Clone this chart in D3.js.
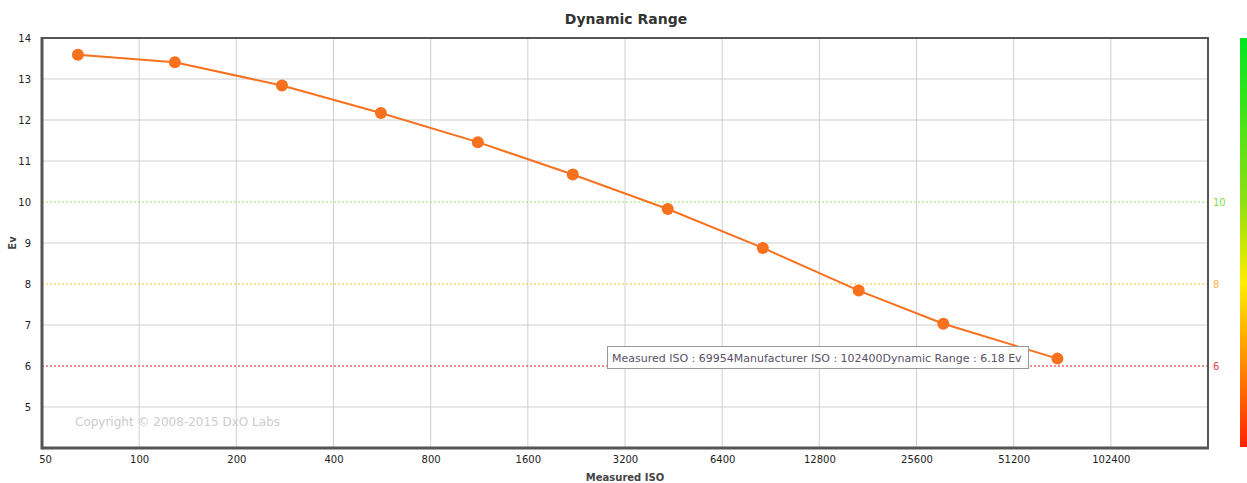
<!DOCTYPE html>
<html><head><meta charset="utf-8">
<script src="https://cdn.jsdelivr.net/npm/d3@7/dist/d3.min.js"></script>
<style>body{margin:0;background:#fff;} svg{display:block;font-family:"DejaVu Sans",Verdana,sans-serif;}</style>
</head><body>
<svg id="c" width="1247" height="483"></svg>
<script>
const measuredISO = [64.6, 129, 277, 561, 1120, 2205, 4341, 8552, 16950, 31000, 69954];
const dynamicRange = [13.59, 13.41, 12.84, 12.17, 11.46, 10.67, 9.83, 8.88, 7.84, 7.03, 6.18];
const xTicks = [50, 100, 200, 400, 800, 1600, 3200, 6400, 12800, 25600, 51200, 102400];
const yTicks = [5, 6, 7, 8, 9, 10, 11, 12, 13, 14];
const refLines = [{v:10, c:"#8ee86a", lc:"#7de04f"}, {v:8, c:"#f5c030", lc:"#f7b548"}, {v:6, c:"#e0161e", lc:"#e04848"}];

const svg = d3.select("#c");
const L = 42, R = 1208, T = 38, B = 448;
const x = d3.scaleLog().base(2).domain([50, 204800]).range([L, R]);
const y = d3.scaleLinear().domain([4, 14]).range([B, T]);

// gridlines
const g = svg.append("g");
g.selectAll(".vx").data(xTicks.slice(1)).join("line")
  .attr("x1", d=>x(d)).attr("x2", d=>x(d)).attr("y1", T).attr("y2", B)
  .attr("stroke", "#cfcfcf").attr("stroke-width", 1);
g.selectAll(".hy").data(yTicks.filter(v=>!refLines.some(r=>r.v===v))).join("line")
  .attr("x1", L).attr("x2", R).attr("y1", d=>y(d)).attr("y2", d=>y(d))
  .attr("stroke", "#cfcfcf").attr("stroke-width", 1);
// reference lines
g.selectAll(".ref").data(refLines).join("line")
  .attr("x1", L).attr("x2", R).attr("y1", d=>y(d.v)).attr("y2", d=>y(d.v))
  .attr("stroke", d=>d.c).attr("stroke-width", 1).attr("stroke-dasharray", "2,2");
svg.selectAll(".refl").data(refLines).join("text")
  .attr("x", R + 5).attr("y", d=>y(d.v) + 4).attr("fill", d=>d.lc)
  .attr("font-size", 10).text(d=>d.v);

// copyright
svg.append("text").attr("x", 75).attr("y", 426).attr("fill", "#cccccc")
  .attr("font-size", 12).text("Copyright © 2008-2015 DxO Labs");

// border
svg.append("rect").attr("x", L).attr("y", T).attr("width", R-L).attr("height", B-T)
  .attr("fill", "none").attr("stroke", "#555").attr("stroke-width", 2);
svg.append("line").attr("x1", L).attr("x2", L).attr("y1", T-1).attr("y2", B+1.5).attr("stroke", "#555").attr("stroke-width", 3);
svg.append("line").attr("x1", L).attr("x2", R+1).attr("y1", B).attr("y2", B).attr("stroke", "#555").attr("stroke-width", 3);

// axes labels
const xa = d3.axisBottom(x).tickValues(xTicks).tickFormat(d=>d).tickSize(0).tickPadding(8);
const xg = svg.append("g").attr("transform", `translate(0,${B})`).call(xa);
xg.select(".domain").remove();
xg.selectAll("text").attr("font-size", 10).attr("fill", "#222").attr("font-family", "DejaVu Sans, Verdana, sans-serif");
xg.selectAll(".tick").filter(d=>d===50).select("text").attr("dx", 3);
const ya = d3.axisLeft(y).tickValues(yTicks).tickSize(0).tickPadding(11);
const yg = svg.append("g").attr("transform", `translate(${L},0)`).call(ya);
yg.select(".domain").remove();
yg.selectAll("text").attr("font-size", 10).attr("fill", "#222").attr("font-family", "DejaVu Sans, Verdana, sans-serif");

// titles
svg.append("text").attr("x", 626).attr("y", 24).attr("text-anchor", "middle")
  .attr("font-size", 14).attr("font-weight", "bold").attr("fill", "#333").text("Dynamic Range");
svg.append("text").attr("x", 625).attr("y", 481).attr("text-anchor", "middle")
  .attr("font-size", 10).attr("font-weight", "bold").attr("fill", "#444").text("Measured ISO");
svg.append("text").attr("transform", "translate(16,243) rotate(-90)").attr("text-anchor", "middle")
  .attr("font-size", 10).attr("font-weight", "bold").attr("fill", "#444").text("Ev");

// gradient bar
const defs = svg.append("defs");
const grad = defs.append("linearGradient").attr("id", "gr").attr("x1", 0).attr("x2", 0).attr("y1", 0).attr("y2", 1);
[[0,"#00e620"],[0.4,"#8ee010"],[0.6,"#ffee00"],[0.8,"#ff8a00"],[1,"#ff2200"]].forEach(s=>
  grad.append("stop").attr("offset", s[0]).attr("stop-color", s[1]));
svg.append("rect").attr("x", 1240).attr("y", T).attr("width", 7).attr("height", B-T-1).attr("fill", "url(#gr)");

// line
const data = measuredISO.map((v,i)=>({iso:v, dr:dynamicRange[i]}));
svg.append("path").datum(data)
  .attr("d", d3.line().x(d=>x(d.iso)).y(d=>y(d.dr)))
  .attr("fill", "none").attr("stroke", "#f7711f").attr("stroke-width", 2);
svg.selectAll(".pt").data(data).join("circle")
  .attr("cx", d=>x(d.iso)).attr("cy", d=>y(d.dr)).attr("r", 6).attr("fill", "#f7711f");

// tooltip
const tt = svg.append("g");
tt.append("rect").attr("x", 607.5).attr("y", 346.5).attr("width", 421).attr("height", 22)
  .attr("fill", "#fff").attr("stroke", "#999").attr("stroke-width", 1);
tt.append("text").attr("x", 612).attr("y", 362).attr("font-size", 11).attr("fill", "#5a5068")
  .text(`Measured ISO : ${measuredISO[10]}Manufacturer ISO : 102400Dynamic Range : ${dynamicRange[10]} Ev`);
</script>
</body></html>
